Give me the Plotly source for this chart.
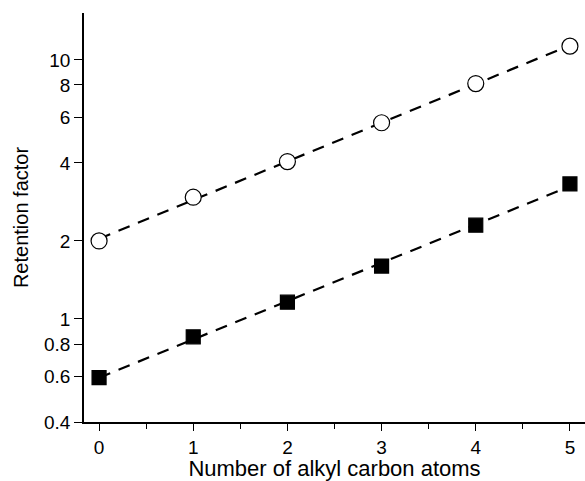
import numpy as np
import plotly.graph_objects as go

carbons = [0, 1, 2, 3, 4, 5]
k_open = [2.0, 2.95, 4.05, 5.72, 8.1, 11.3]
k_filled = [0.593, 0.853, 1.16, 1.6, 2.3, 3.32]
y_tick_vals = [0.4, 0.6, 0.8, 1, 2, 4, 6, 8, 10]
y_tick_text = ["0.4", "0.6", "0.8", "1", "2", "4", "6", "8", "10"]
x_tick_vals = [0, 1, 2, 3, 4, 5]

def fit_line(x, y):
    x = np.asarray(x, float)
    b, a = np.polyfit(x, np.log10(y), 1)
    return x, 10 ** (a + b * x)

fig = go.Figure()
for ys, sym, fill in [(k_open, "circle", "white"), (k_filled, "square", "black")]:
    fx, fy = fit_line(carbons, ys)
    fig.add_trace(go.Scatter(x=fx, y=fy, mode="lines",
                             line=dict(color="black", width=2.2, dash="12px,9px"),
                             showlegend=False, hoverinfo="skip"))
    fig.add_trace(go.Scatter(x=carbons, y=ys, mode="markers",
                             marker=dict(symbol=sym, size=16 if sym == "circle" else 14,
                                         color=fill, line=dict(color="black", width=1.2)),
                             showlegend=False))

font = "Liberation Sans, Arial, sans-serif"
fig.update_layout(
    width=585, height=481,
    margin=dict(l=84, r=0, t=13, b=59),
    paper_bgcolor="white", plot_bgcolor="white",
    font=dict(family=font, color="black", size=19),
    xaxis=dict(range=[-0.16, 5.16], tickvals=x_tick_vals, ticks="outside",
               ticklen=7, tickwidth=1.3, tickcolor="black",
               showline=True, linecolor="black", linewidth=1.5,
               showgrid=False, zeroline=False,
               minor=dict(dtick=0.5, tick0=0, ticks="outside", ticklen=5,
                          tickwidth=1.3, tickcolor="black", showgrid=False),
               title=dict(text="Number of alkyl carbon atoms", font=dict(size=22), standoff=2),
               tickfont=dict(size=19)),
    yaxis=dict(type="log", range=[np.log10(0.4), 1.181],
               tickvals=y_tick_vals, ticktext=y_tick_text, ticks="outside",
               ticklen=8, tickwidth=1.3, tickcolor="black",
               showline=True, linecolor="black", linewidth=1.5,
               showgrid=False, zeroline=False,
               title=dict(text="Retention factor", font=dict(size=20), standoff=10),
               tickfont=dict(size=19)),
)
fig.write_html("out.html")
